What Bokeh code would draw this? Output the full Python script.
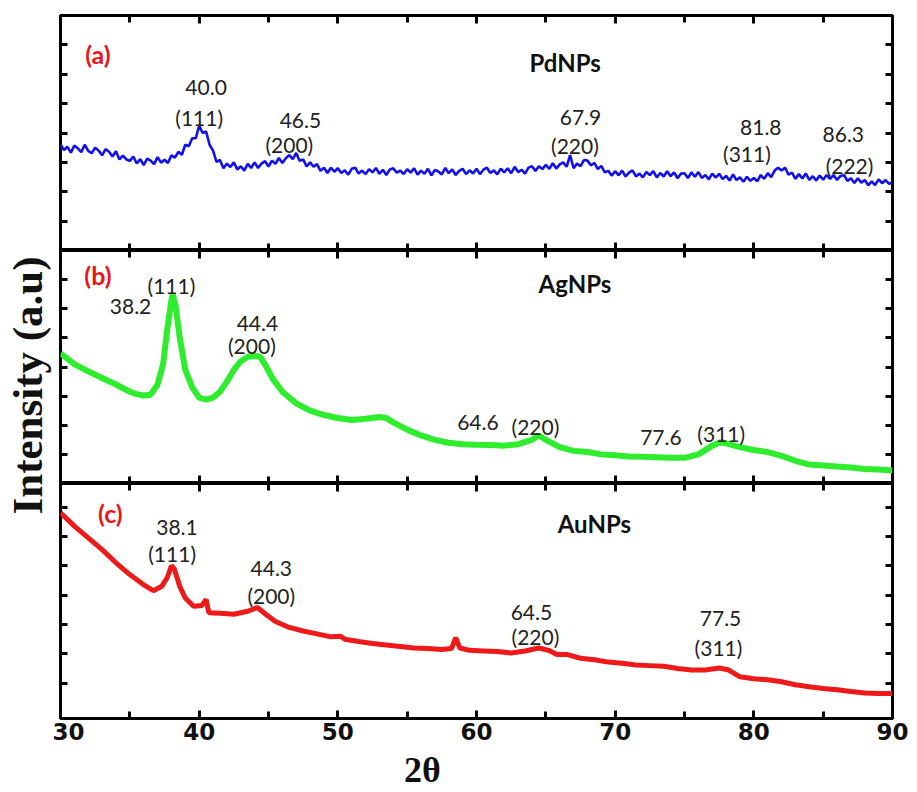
import numpy as np
from bokeh.plotting import figure
from bokeh.layouts import column, row
from bokeh.models import (Range1d, LinearAxis, SingleIntervalTicker, FixedTicker, Label, Grid,
                          CustomJSTickFormatter)
from bokeh.core.properties import value
from bokeh.embed import file_html
from bokeh.resources import INLINE

# ---------------- data ----------------
# (a) PdNPs, sampled every 0.25 degree from 30 to 90
two_theta_pd = np.linspace(30.0, 90.0, 241)
intensity_pd = [
    3.62, 3.42, 3.53, 3.33, 3.57, 3.48, 3.35, 3.60, 3.39, 3.31, 3.50, 3.40, 3.24, 3.45, 3.36, 3.20, 3.38, 3.10, 3.23, 3.10,
    3.05, 3.20, 2.96, 3.11, 2.91, 3.13, 3.06, 2.94, 3.18, 2.99, 3.09, 2.98, 3.24, 3.16, 3.36, 3.26, 3.60, 3.55, 3.82, 3.82,
    4.25, 4.00, 4.05, 3.60, 3.40, 3.02, 3.08, 2.80, 2.96, 2.84, 3.00, 2.76, 2.87, 2.72, 2.95, 2.81, 3.00, 2.81, 2.96, 3.04,
    2.86, 3.06, 2.95, 3.15, 2.98, 3.14, 3.25, 3.11, 3.32, 3.05, 3.10, 2.86, 3.00, 2.85, 2.94, 2.71, 2.82, 2.64, 2.82, 2.68,
    2.80, 2.64, 2.73, 2.58, 2.78, 2.82, 2.62, 2.72, 2.60, 2.77, 2.66, 2.81, 2.61, 2.75, 2.57, 2.76, 2.80, 2.65, 2.72, 2.60,
    2.77, 2.65, 2.80, 2.58, 2.72, 2.61, 2.78, 2.56, 2.74, 2.69, 2.59, 2.81, 2.63, 2.76, 2.57, 2.71, 2.78, 2.60, 2.73, 2.62,
    2.78, 2.60, 2.75, 2.82, 2.64, 2.73, 2.59, 2.79, 2.66, 2.80, 2.63, 2.85, 2.67, 2.75, 2.62, 2.82, 2.87, 2.71, 2.87, 2.77,
    2.92, 2.78, 2.97, 2.79, 2.93, 3.00, 2.85, 3.25, 2.80, 2.96, 2.87, 3.08, 3.06, 2.90, 2.98, 2.77, 2.88, 2.66, 2.71, 2.55,
    2.70, 2.56, 2.72, 2.52, 2.65, 2.73, 2.52, 2.62, 2.49, 2.67, 2.57, 2.70, 2.49, 2.64, 2.52, 2.70, 2.53, 2.66, 2.46, 2.62,
    2.63, 2.47, 2.66, 2.51, 2.67, 2.47, 2.57, 2.42, 2.62, 2.48, 2.61, 2.43, 2.54, 2.38, 2.59, 2.40, 2.49, 2.34, 2.51, 2.37,
    2.47, 2.36, 2.57, 2.44, 2.63, 2.50, 2.72, 2.82, 2.72, 2.82, 2.58, 2.65, 2.44, 2.60, 2.45, 2.62, 2.40, 2.53, 2.38, 2.55,
    2.41, 2.57, 2.44, 2.57, 2.40, 2.54, 2.57, 2.37, 2.46, 2.30, 2.46, 2.31, 2.40, 2.22, 2.35, 2.23, 2.42, 2.29, 2.40, 2.27,
    2.32,
]

# (b) AgNPs
two_theta_ag = [30, 31, 32, 33, 34, 35, 35.5, 36, 36.5, 37, 37.4, 37.7, 38.0, 38.1, 38.3,
                38.6, 39.0, 39.5, 40, 40.5, 41, 41.5, 42, 42.5, 43, 43.5, 44.0, 44.4, 44.8,
                45.3, 46, 47, 48, 49, 50, 51, 52, 53, 53.5, 54, 55, 56, 57, 58, 59, 60, 61,
                62, 63, 64, 64.5, 65, 66, 67, 68, 69, 70, 71, 72, 73, 74, 75, 76, 77, 77.6,
                78, 79, 80, 81, 82, 83, 84, 85, 86, 87, 88, 89, 90]
intensity_ag = [4.47, 4.1, 3.85, 3.62, 3.4, 3.15, 3.07, 3.02, 3.05, 3.4, 4.1, 5.3, 6.3, 6.5, 6.1,
                5.0, 3.9, 3.3, 2.95, 2.88, 2.95, 3.15, 3.5, 3.9, 4.2, 4.35, 4.38, 4.35, 4.05,
                3.6, 3.15, 2.75, 2.5, 2.35, 2.25, 2.18, 2.22, 2.28, 2.25, 2.1, 1.85, 1.65, 1.5, 1.4, 1.35, 1.33, 1.32,
                1.3, 1.35, 1.5, 1.65, 1.5, 1.25, 1.12, 1.08, 1.0, 0.97, 0.93, 0.92, 0.9, 0.88, 0.88, 1.0, 1.3, 1.42,
                1.38, 1.25, 1.15, 1.08, 0.95, 0.78, 0.65, 0.62, 0.58, 0.55, 0.5, 0.48, 0.45]

# (c) AuNPs
two_theta_au = [30, 31, 32, 33, 34, 35, 36, 36.7, 37.3, 37.7, 38.0, 38.2, 38.6, 39.0, 39.6, 40.2,
                40.5, 40.7, 41.5, 42.5, 43.5, 44.2, 44.8, 45.5, 46.5, 47.5, 48.5, 49.5, 50.2, 50.5,
                51.5, 52.5, 53.5, 54.5, 55.5, 56.5, 57.5, 58.2, 58.5, 58.8, 59.5, 60.5, 61.5, 62.5,
                63.5, 64.5, 65.2, 65.8, 66.5, 67.5, 68.5, 69.5, 70.5, 71.5, 72.5, 73.5, 74.5, 75.5,
                76.5, 77.5, 78.2, 79, 80, 81, 82, 83, 84, 85, 86, 87, 88, 89, 90]
intensity_au = [6.8, 6.35, 5.95, 5.55, 5.1, 4.7, 4.35, 4.15, 4.3, 4.6, 5.0, 4.9, 4.3, 3.9, 3.62, 3.65,
                3.85, 3.4, 3.38, 3.35, 3.45, 3.58, 3.35, 3.1, 2.9, 2.78, 2.68, 2.58, 2.6, 2.5,
                2.42, 2.35, 2.3, 2.25, 2.2, 2.18, 2.15, 2.18, 2.55, 2.2, 2.12, 2.1, 2.08, 2.03,
                2.1, 2.2, 2.12, 1.98, 1.98, 1.85, 1.8, 1.72, 1.68, 1.62, 1.6, 1.58, 1.5, 1.45,
                1.45, 1.52, 1.45, 1.22, 1.15, 1.12, 1.05, 0.95, 0.88, 0.82, 0.78, 0.72, 0.67, 0.65, 0.65]

y_tick_values = [1, 2, 3, 4, 5, 6, 7]

# peak annotations: text and placement
pd_text = ["40.0", "(111)", "46.5", "(200)", "67.9", "(220)", "81.8", "(311)", "86.3", "(222)"]
pd_tx = [40.5, 40.0, 47.3, 46.5, 67.5, 67.1, 80.5, 79.5, 86.45, 86.9]
pd_ty = [5.54, 4.52, 4.42, 3.6, 4.52, 3.57, 4.18, 3.3, 3.95, 2.9]

ag_text = ["(111)", "38.2", "44.4", "(200)", "64.6", "(220)", "77.6", "(311)"]
ag_tx = [38.0, 35.05, 44.2, 43.8, 60.1, 64.25, 73.3, 77.65]
ag_ty = [6.8, 6.08, 5.5, 4.74, 2.1, 1.96, 1.58, 1.72]

au_text = ["38.1", "(111)", "44.3", "(200)", "64.5", "(220)", "77.5", "(311)"]
au_tx = [38.4, 38.05, 45.2, 45.2, 63.96, 64.25, 77.6, 77.45]
au_ty = [6.3, 5.41, 4.9, 3.98, 3.4, 2.59, 3.2, 2.21]

panel_tags = ["(a)", "(b)", "(c)"]
panel_names = ["PdNPs", "AgNPs", "AuNPs"]

# ---------------- layout ----------------
X_RANGE = Range1d(30, 90)
FRAME_W = 832
LEFT_B = 8
RIGHT_B = 22
LABEL_W = 52
TOP_B = 15
BOTTOM_B = 31
STRIP_H = 41
H_A, H_B, H_C = 235, 233, 235
TOTAL_H = TOP_B + H_A + H_B + H_C + BOTTOM_B + STRIP_H

ANN_FONT = "Lato"
EMPTY = CustomJSTickFormatter(code="return '';")


def hide_grids(p):
    for g in p.select(type=Grid):
        g.visible = False


def style_x_axis(ax, labels):
    ax.axis_line_color = None
    ax.major_tick_in = 8
    ax.major_tick_out = 0
    ax.minor_tick_in = 7
    ax.minor_tick_out = 0
    ax.major_tick_line_width = 3
    ax.minor_tick_line_width = 3
    ax.major_tick_line_color = "black"
    ax.minor_tick_line_color = "black"
    if labels:
        ax.major_label_text_font = "DejaVu Sans"
        ax.major_label_text_font_style = "bold"
        ax.major_label_text_font_size = "23px"
        ax.major_label_text_color = "#111111"
        ax.major_label_standoff = 4
    else:
        ax.formatter = EMPTY
        ax.major_label_text_font_size = "1px"
        ax.major_label_standoff = 0


def style_y_axis(ax):
    ax.axis_line_color = None
    ax.major_tick_in = 7
    ax.major_tick_out = 0
    ax.minor_tick_in = 0
    ax.minor_tick_out = 0
    ax.major_tick_line_width = 3
    ax.major_tick_line_color = "black"
    ax.formatter = EMPTY
    ax.major_label_text_font_size = "1px"
    ax.major_label_standoff = 0


def make_panel(y0, y1, frame_h, top_b, bottom_b, bottom_labels=False):
    p = figure(x_range=X_RANGE, y_range=Range1d(y0, y1), frame_width=FRAME_W, frame_height=frame_h,
               output_backend="svg", toolbar_location=None,
               x_axis_location=None, y_axis_location=None,
               min_border_left=LEFT_B, min_border_right=RIGHT_B,
               min_border_top=top_b, min_border_bottom=bottom_b)
    hide_grids(p)
    p.outline_line_color = "black"
    p.outline_line_width = 3
    p.outline_line_alpha = 1.0
    p.background_fill_color = "white"
    p.border_fill_color = "white"
    for side in ["below", "above"]:
        ax = LinearAxis(ticker=SingleIntervalTicker(interval=10, num_minor_ticks=2))
        style_x_axis(ax, bottom_labels and side == "below")
        p.add_layout(ax, side)
    for side in ["left", "right"]:
        ax = LinearAxis(ticker=FixedTicker(ticks=y_tick_values))
        style_y_axis(ax)
        p.add_layout(ax, side)
    return p


def add_texts(p, txt, tx, ty):
    p.text(x=tx, y=ty, text=txt, text_font=value(ANN_FONT), text_font_size=value("21px"),
           text_align="center", text_baseline="middle", text_color="#222222")


def add_tags(p, tag, tag_x, tag_y, name, name_x, name_y):
    p.add_layout(Label(x=tag_x, y=tag_y, text=tag, text_font=ANN_FONT, text_font_style="bold",
                       text_font_size="25px", text_color="#e8161b", text_align="center",
                       text_baseline="middle"))
    p.add_layout(Label(x=name_x, y=name_y, text=name, text_font=ANN_FONT, text_font_style="bold",
                       text_font_size="24px", text_color="#111111", text_align="center",
                       text_baseline="middle"))


pa = make_panel(0, 8, H_A, TOP_B, 0)
pa.line(two_theta_pd, intensity_pd, line_color="#1010f0", line_width=2.6)
add_texts(pa, pd_text, pd_tx, pd_ty)
add_tags(pa, panel_tags[0], 32.7, 6.7, panel_names[0], 66.4, 6.4)

pb = make_panel(0, 8, H_B, 0, 0)
pb.line(two_theta_ag, intensity_ag, line_color="#2ded2d", line_width=6)
add_texts(pb, ag_text, ag_tx, ag_ty)
add_tags(pb, panel_tags[1], 32.7, 7.15, panel_names[1], 67.1, 6.87)

pc = make_panel(-0.2, 7.8, H_C, 0, BOTTOM_B, bottom_labels=True)
pc.line(two_theta_au, intensity_au, line_color="#ee1a1a", line_width=5)
add_texts(pc, au_text, au_tx, au_ty)
add_tags(pc, panel_tags[2], 33.6, 6.8, panel_names[2], 68.5, 6.43)

# strip below the bottom panel holding the x-axis title
strip = figure(x_range=X_RANGE, y_range=Range1d(0, STRIP_H), frame_width=FRAME_W, frame_height=STRIP_H,
               output_backend="svg", toolbar_location=None, x_axis_location=None, y_axis_location=None,
               min_border_left=LEFT_B, min_border_right=RIGHT_B, min_border_top=0, min_border_bottom=0)
hide_grids(strip)
strip.outline_line_color = None
strip.text(x=[56.1], y=[STRIP_H / 2], text=["2θ"], text_font=value("Liberation Serif"),
           text_font_style="bold", text_font_size=value("36px"), text_color="#111111",
           text_align="center", text_baseline="middle")

# strip left of the panels holding the y-axis title
lab = figure(width=LABEL_W, height=TOTAL_H, x_range=Range1d(0, LABEL_W), y_range=Range1d(0, TOTAL_H),
             output_backend="svg", toolbar_location=None, x_axis_location=None, y_axis_location=None,
             min_border=0)
hide_grids(lab)
lab.outline_line_color = None
lab.text(x=[27], y=[TOTAL_H - 385], text=["Intensity (a.u)"], angle=np.pi / 2,
         text_align="center", text_baseline="middle", text_font=value("Liberation Serif"),
         text_font_style="bold", text_font_size=value("43px"), text_color="#111111")

layout = row(lab, column(pa, pb, pc, strip))

with open("out.html", "w") as f:
    f.write(file_html(layout, INLINE))
